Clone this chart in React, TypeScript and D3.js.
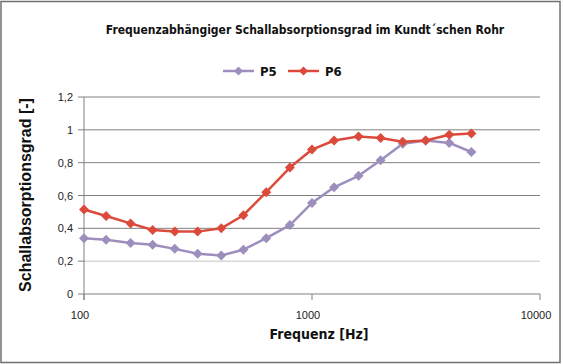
import React from 'react';
import * as d3 from 'd3';

const freqs = [100, 125, 160, 200, 250, 315, 400, 500, 630, 800, 1000, 1250, 1600, 2000, 2500, 3150, 4000, 5000];
const p5 = [0.34, 0.33, 0.31, 0.30, 0.275, 0.245, 0.235, 0.27, 0.34, 0.42, 0.555, 0.65, 0.72, 0.815, 0.915, 0.935, 0.92, 0.865];
const p6 = [0.515, 0.475, 0.43, 0.39, 0.38, 0.38, 0.40, 0.48, 0.62, 0.77, 0.88, 0.935, 0.96, 0.95, 0.927, 0.935, 0.97, 0.977];
const yTicks = [0, 0.2, 0.4, 0.6, 0.8, 1, 1.2];
const xTicks = [100, 1000, 10000];
const seriesNames = ['P5', 'P6'];
const seriesColors = ['#9d8fbd', '#dc4a3c'];

const W = 563;
const H = 364;
const condensed = '"Liberation Sans Narrow", "DejaVu Sans Condensed", "Roboto Condensed", sans-serif';

const App: React.FC = () => {
  const x = d3.scaleLog().domain([100, 10000]).range([84, 540]);
  const y = d3.scaleLinear().domain([0, 1.2]).range([294, 97]);
  const line = d3.line<[number, number]>()
    .x(d => x(d[0]))
    .y(d => y(d[1]));
  const series = [p5, p6];
  const diamond = (cx: number, cy: number, r: number) =>
    `M${cx},${cy - r}L${cx + r},${cy}L${cx},${cy + r}L${cx - r},${cy}Z`;
  const fmt = (v: number) => String(+v.toFixed(1)).replace('.', ',');

  return (
    <svg width={W} height={H} style={{ position: 'absolute', left: 0, top: 0, background: '#fff' }}>
      <rect x={1} y={1.5} width={559} height={361} fill="#fff" stroke="#707070" strokeWidth={1.5} />

      <text x={305} y={34} textAnchor="middle" fontFamily={condensed} fontWeight="bold" fontSize={12}
        fill="#111">
        Frequenzabhängiger Schallabsorptionsgrad im Kundt´schen Rohr
      </text>

      {/* legend */}
      {seriesNames.map((n, i) => {
        const lx = 223 + i * 65;
        return (
          <g key={n}>
            <line x1={lx} x2={lx + 31} y1={71} y2={71} stroke={seriesColors[i]} strokeWidth={2.5} />
            <path d={diamond(lx + 15.5, 71, 4.5)} fill={seriesColors[i]} />
            <text x={lx + 37} y={76} fontFamily={condensed} fontWeight="bold" fontSize={13} fill="#111">{n}</text>
          </g>
        );
      })}

      {/* grid */}
      {yTicks.filter(t => t > 0).map(t => (
        <line key={t} x1={x(100)} x2={x(10000)} y1={y(t)} y2={y(t)}
          stroke={t === 0.2 ? '#c4c4c4' : '#808080'} strokeWidth={1} />
      ))}

      {/* axes */}
      <line x1={x(100)} x2={x(10000)} y1={y(0)} y2={y(0)} stroke="#808080" />
      <line x1={x(100)} x2={x(100)} y1={y(1.2)} y2={y(0) + 6} stroke="#808080" />
      {yTicks.map(t => (
        <g key={t}>
          <line x1={x(100) - 6} x2={x(100)} y1={y(t)} y2={y(t)} stroke="#808080" />
          <text x={73} y={y(t) + 4} textAnchor="end" fontFamily="'Liberation Sans', Arial, sans-serif"
            fontSize={11} fill="#222">{fmt(t)}</text>
        </g>
      ))}
      {xTicks.map(t => (
        <g key={t}>
          <line x1={x(t)} x2={x(t)} y1={y(0)} y2={y(0) + 6} stroke="#808080" />
          <text x={x(t) - 4} y={319} textAnchor="middle" fontFamily="'Liberation Sans', Arial, sans-serif"
            fontSize={11} fill="#222">{t}</text>
        </g>
      ))}

      <text x={319} y={339} textAnchor="middle" fontFamily={condensed} fontWeight="bold" fontSize={14}
        fill="#111">Frequenz [Hz]</text>
      <text transform="translate(31,195) rotate(-90)" textAnchor="middle"
        fontFamily="'Liberation Sans', Arial, sans-serif" fontWeight="bold" fontSize={16}
        fill="#111">Schallabsorptionsgrad [-]</text>

      {/* series */}
      {series.map((vals, i) => {
        const pts = freqs.map((f, j) => [f, vals[j]] as [number, number]);
        return (
          <g key={i}>
            <path d={line(pts) || ''} fill="none" stroke={seriesColors[i]} strokeWidth={2.5} strokeLinejoin="round" />
            {pts.map((p, j) => (
              <path key={j} d={diamond(x(p[0]), y(p[1]), 5)} fill={seriesColors[i]} />
            ))}
          </g>
        );
      })}
    </svg>
  );
};

export default App;
